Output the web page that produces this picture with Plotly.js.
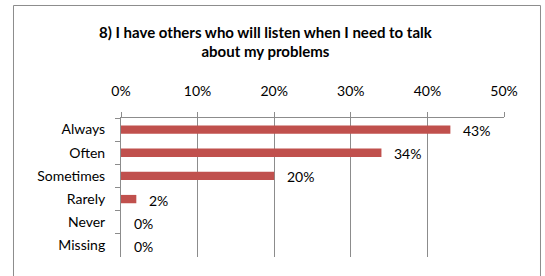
<!DOCTYPE html>
<html>
<head>
<meta charset="utf-8">
<script src="https://cdn.plot.ly/plotly-3.0.1.min.js"></script>
<style>
html,body{margin:0;padding:0;background:#fff;}
</style>
</head>
<body>
<div id="chart" style="width:545px;height:276px;"></div>
<script>
const categories = ["Always", "Often", "Sometimes", "Rarely", "Never", "Missing"];
const values = [0.43, 0.34, 0.20, 0.02, 0.00, 0.00];
const tickValues = [0, 0.1, 0.2, 0.3, 0.4, 0.5];
const tickLabels = ["0%", "10%", "20%", "30%", "40%", "50%"];
const titleText = "8) I have others who will listen when I need to talk<br>about my problems";

const font = "Lato, 'Open Sans', sans-serif";

const annotations = categories.map((c, i) => ({
  x: values[i], y: c, xref: 'x', yref: 'y',
  text: Math.round(values[i] * 100) + '%',
  showarrow: false, xanchor: 'left', yanchor: 'middle', xshift: 11, yshift: -1,
  font: {family: font, size: 14, color: '#000'}
}));

const trace = {
  type: 'bar', orientation: 'h',
  x: values, y: categories,
  marker: {color: '#C0504D'},
  hoverinfo: 'none'
};

const layout = {
  width: 545, height: 276,
  margin: {l: 121, r: 41, t: 118, b: 19},
  paper_bgcolor: '#fff', plot_bgcolor: '#fff',
  showlegend: false,
  bargap: 0.64,
  title: {text: titleText, x: 0.487, xanchor: 'center', y: 0.864, yanchor: 'top',
          font: {family: font, size: 15, color: '#000', weight: 'bold'}},
  xaxis: {
    side: 'top', range: [0, 0.5], tickvals: tickValues, ticktext: tickLabels,
    showgrid: true, gridcolor: '#8c8c8c', gridwidth: 1,
    showline: true, linecolor: '#8c8c8c', linewidth: 1,
    ticks: 'outside', ticklen: 5, tickcolor: '#8c8c8c',
    ticklabelstandoff: 10,
    zeroline: false, fixedrange: true,
    tickfont: {family: font, size: 14, color: '#000'}
  },
  yaxis: {
    type: 'category', autorange: 'reversed',
    showline: true, linecolor: '#8c8c8c', linewidth: 1,
    ticks: 'outside', ticklen: 5, tickcolor: '#8c8c8c', tickson: 'boundaries',
    showgrid: false, zeroline: false, fixedrange: true,
    ticklabelstandoff: 12,
    tickfont: {family: font, size: 14, color: '#000'}
  },
  shapes: [{
    type: 'rect', xref: 'paper', yref: 'paper', layer: 'above',
    x0: -0.2807, x1: 1.0953, y0: -0.5, y1: 1.8094,
    line: {color: '#8c8c8c', width: 1}, fillcolor: 'rgba(0,0,0,0)'
  }],
  annotations: annotations
};

Plotly.newPlot('chart', [trace], layout, {displayModeBar: false, staticPlot: true});
</script>
</body>
</html>
